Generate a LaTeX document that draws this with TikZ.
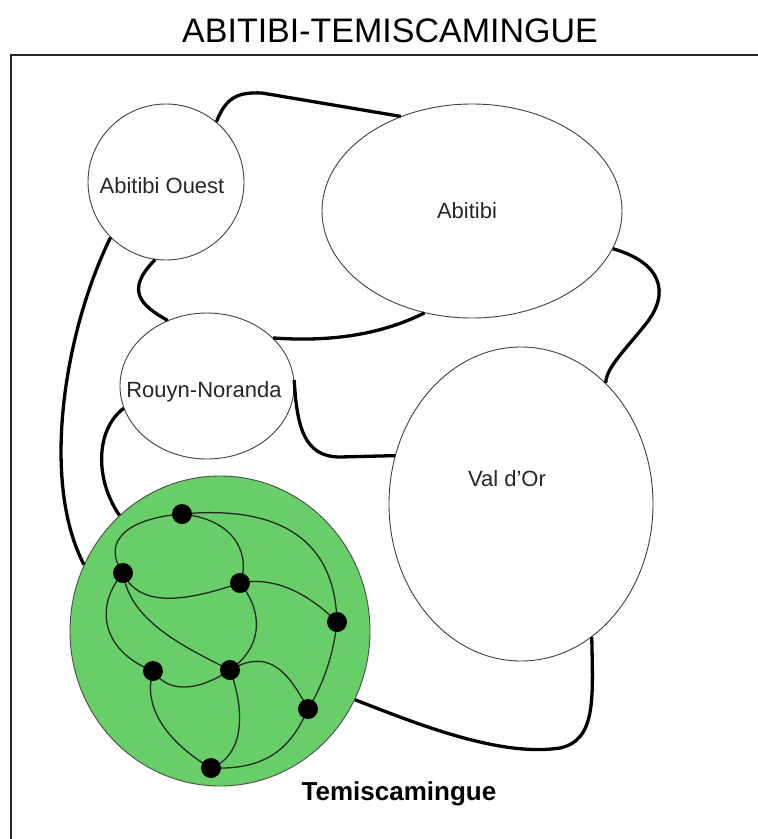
\documentclass[tikz,border=0pt]{standalone}
\usepackage{fontspec}
\setmainfont{Liberation Sans}
\usetikzlibrary{shapes.geometric}
\definecolor{temgreen}{RGB}{104,207,104}
\begin{document}
\begin{tikzpicture}[x=1pt,y=-1pt,
  region/.style={draw=black!75, line width=0.9pt, ellipse, inner sep=0pt, fill=white},
  link/.style={line width=3.3pt, line cap=butt},
  road/.style={line width=1.3pt, draw=black!85},
  town/.style={circle, fill=black, inner sep=0pt, minimum size=20pt},
  lab/.style={anchor=base, inner sep=0pt, font=\fontsize{22}{26}\selectfont, text=black!85}]
\useasboundingbox (0,0) rectangle (758,839);
\clip (0,0) rectangle (758,839);
\fill[white] (0,0) rectangle (758,839);
% title and frame
\node[anchor=base, inner sep=0pt, font=\fontsize{34}{40}\selectfont] (title) at (390,42) {ABITIBI-TEMISCAMINGUE};
\draw[line width=1.6pt, black!85] (780,55) -- (11,55) -- (11,860);
% regions
\node[region, minimum width=156pt, minimum height=156pt] (AO) at (166,182) {};
\node[region, minimum width=300pt, minimum height=214pt] (AB) at (472,211) {};
\node[region, minimum width=174pt, minimum height=146pt] (RN) at (207,386) {};
\node[region, minimum width=264pt, minimum height=314pt] (VO) at (521,504) {};
\node[region, fill=temgreen, draw=black!70, minimum width=300pt, minimum height=310pt] (TE) at (220,631) {};
% region names
\node[lab] (tAO) at (162,193) {Abitibi Ouest};
\node[lab] (tAB) at (467,218) {Abitibi};
\node[lab] (tRN) at (204,397) {Rouyn-Noranda};
\node[lab] (tVO) at (507,486) {Val d'Or};
\node[anchor=base, inner sep=0pt, font=\bfseries\fontsize{26}{30}\selectfont] (tTE) at (399,800) {Temiscamingue};
% thick links between regions
\draw[link] (AO.50) .. controls (226,97) and (238,92) .. (262,93) -- (AB.127.6);
\draw[link] (AO.262) .. controls (125,290) and (140,305) .. (RN.121);
\draw[link] (AB.245.6) .. controls (380,335) and (330,342) .. (RN.36);
\draw[link] (AB.-15.5) .. controls (660,262) and (672,292) .. (645,325) .. controls (625,350) and (606,368) .. (VO.55.4);
\draw[link] (RN.4) .. controls (297,425) and (303,457) .. (340,457) -- (VO.159.2);
\draw[link] (RN.195) .. controls (95,430) and (95,480) .. (TE.131.3);
\draw[link] (AO.225.5) .. controls (65,330) and (40,480) .. (TE.154);
\draw[link] (TE.-27.4) .. controls (420,725) and (500,757) .. (560,748) .. controls (596,740) and (593,700) .. (VO.-62.4);
% towns of Temiscamingue
\coordinate (d1) at (182,514);
\coordinate (d2) at (123,573);
\coordinate (d3) at (240,583);
\coordinate (d4) at (337,622);
\coordinate (d5) at (153,671);
\coordinate (d6) at (230,670);
\coordinate (d7) at (308,709);
\coordinate (d8) at (211,768);
\draw[road] (d1) .. controls (280,505) and (335,540) .. (d4);
\draw[road] (d1) .. controls (130,518) and (100,540) .. (d2);
\draw[road] (d1) .. controls (240,520) and (250,560) .. (d3);
\draw[road] (d2) .. controls (140,610) and (190,600) .. (d3);
\draw[road] (d3) .. controls (280,575) and (315,600) .. (d4);
\draw[road] (d2) .. controls (95,605) and (100,650) .. (d5);
\draw[road] (d2) .. controls (130,620) and (180,645) .. (d6);
\draw[road] (d3) .. controls (262,610) and (265,645) .. (d6);
\draw[road] (d5) .. controls (170,695) and (200,690) .. (d6);
\draw[road] (d6) .. controls (265,650) and (285,665) .. (d7);
\draw[road] (d4) .. controls (333,660) and (320,690) .. (d7);
\draw[road] (d5) .. controls (140,715) and (180,750) .. (d8);
\draw[road] (d6) .. controls (245,710) and (245,755) .. (d8);
\draw[road] (d7) .. controls (290,750) and (265,770) .. (d8);
\foreach \i in {1,...,8} { \node[town] (town\i) at (d\i) {}; }
\end{tikzpicture}
\end{document}
